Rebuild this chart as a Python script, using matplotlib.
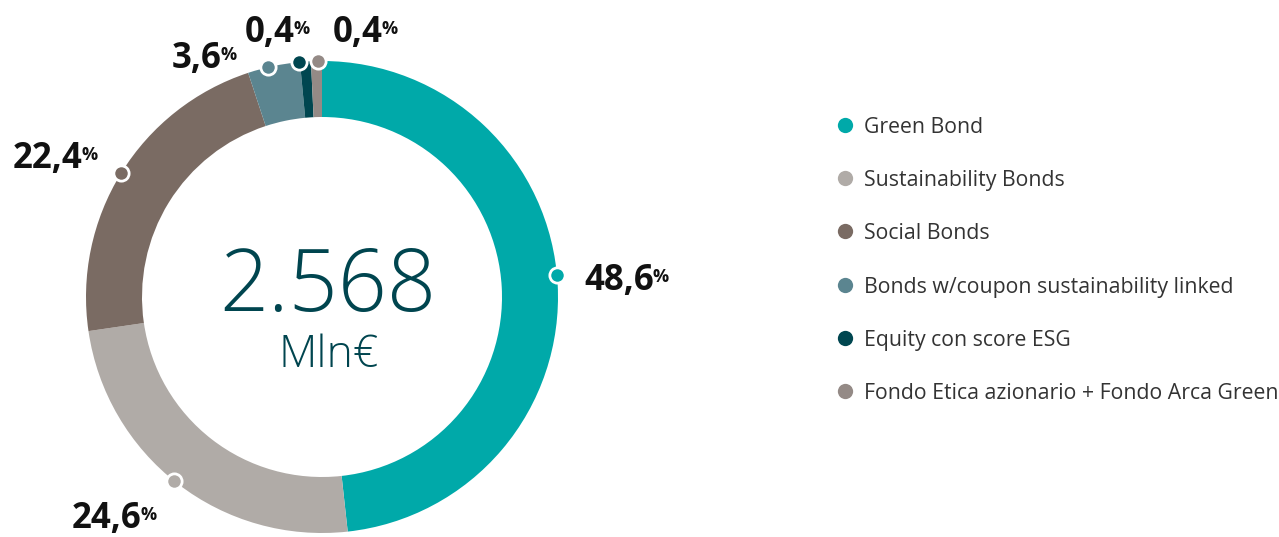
import numpy as np
from matplotlib import pyplot as plt

plt.rcParams['font.family'] = ['Open Sans', 'DejaVu Sans']

# dati
categorie = ['Green Bond', 'Sustainability Bonds', 'Social Bonds',
             'Bonds w/coupon sustainability linked', 'Equity con score ESG',
             'Fondo Etica azionario + Fondo Arca Green']
valori = [48.6, 24.6, 22.4, 3.6, 0.4, 0.4]
etichette = ['48,6', '24,6', '22,4', '3,6', '0,4', '0,4']
totale = '2.568'
unita = 'Mln€'

colori = ['#00A9A9', '#B0ABA7', '#7A6B63', '#5B8590', '#004650', '#948A86']

# layout (pixel, y verso l'alto)
W, H = 1279, 537
cx, cy = 322, H - 297
R, spessore = 236, 56
# posizione dei numeri (centro x, baseline y) e spostamento angolare dei punti
pos_etichette = [(619, H - 290), (107, H - 528), (48, H - 168),
                 (197, H - 68), (270, H - 42), (358, H - 42)]
nudge_punti = [-2.2, 1.2, 0, -1.5, -1.5, 0.3]

# larghezza minima visibile per le fette piccole
vis = np.maximum(np.array(valori), 0.75)
vis = vis / vis.sum() * 100

fig = plt.figure(figsize=(W / 100, H / 100), dpi=100)
ax = fig.add_axes([0, 0, 1, 1])

ax.pie(vis, colors=colori, startangle=90, counterclock=False, radius=R,
       center=(cx, cy), wedgeprops=dict(width=spessore, edgecolor='none'))

ax.set_xlim(0, W)
ax.set_ylim(0, H)
ax.set_aspect('equal')
ax.axis('off')

# punti sul bordo esterno + etichette
cum = np.cumsum(vis) - vis / 2
for i, m in enumerate(cum):
    th = np.deg2rad(m / 100 * 360 + nudge_punti[i])
    px, py = cx + R * np.sin(th), cy + R * np.cos(th)
    ax.plot(px, py, 'o', ms=11, mfc=colori[i], mec='white', mew=2, zorder=5)
    tx, ty = pos_etichette[i]
    t = ax.text(tx, ty, etichette[i], fontsize=25, fontweight='bold',
                color='#111111', ha='center', va='baseline')
    ax.annotate('%', xy=(1, ty + 8), xycoords=(t, 'data'), xytext=(-1, 0),
                textcoords='offset pixels', fontsize=13, fontweight='bold',
                color='#111111', ha='left', va='baseline')

# testo centrale
ax.text(328, H - 311, totale, fontsize=62, fontweight='light',
        color='#00454F', ha='center', va='baseline')
ax.text(329, H - 367, unita, fontsize=32, fontweight='light',
        color='#00454F', ha='center', va='baseline')

# legenda
for i, nome in enumerate(categorie):
    y = H - (125 + i * 53.2)
    ax.plot(845, y, 'o', ms=11, color=colori[i], mec='none')
    ax.text(864, y, nome, fontsize=15.3, color='#333333',
            ha='left', va='center_baseline')

plt.savefig('out.png', dpi=100)
